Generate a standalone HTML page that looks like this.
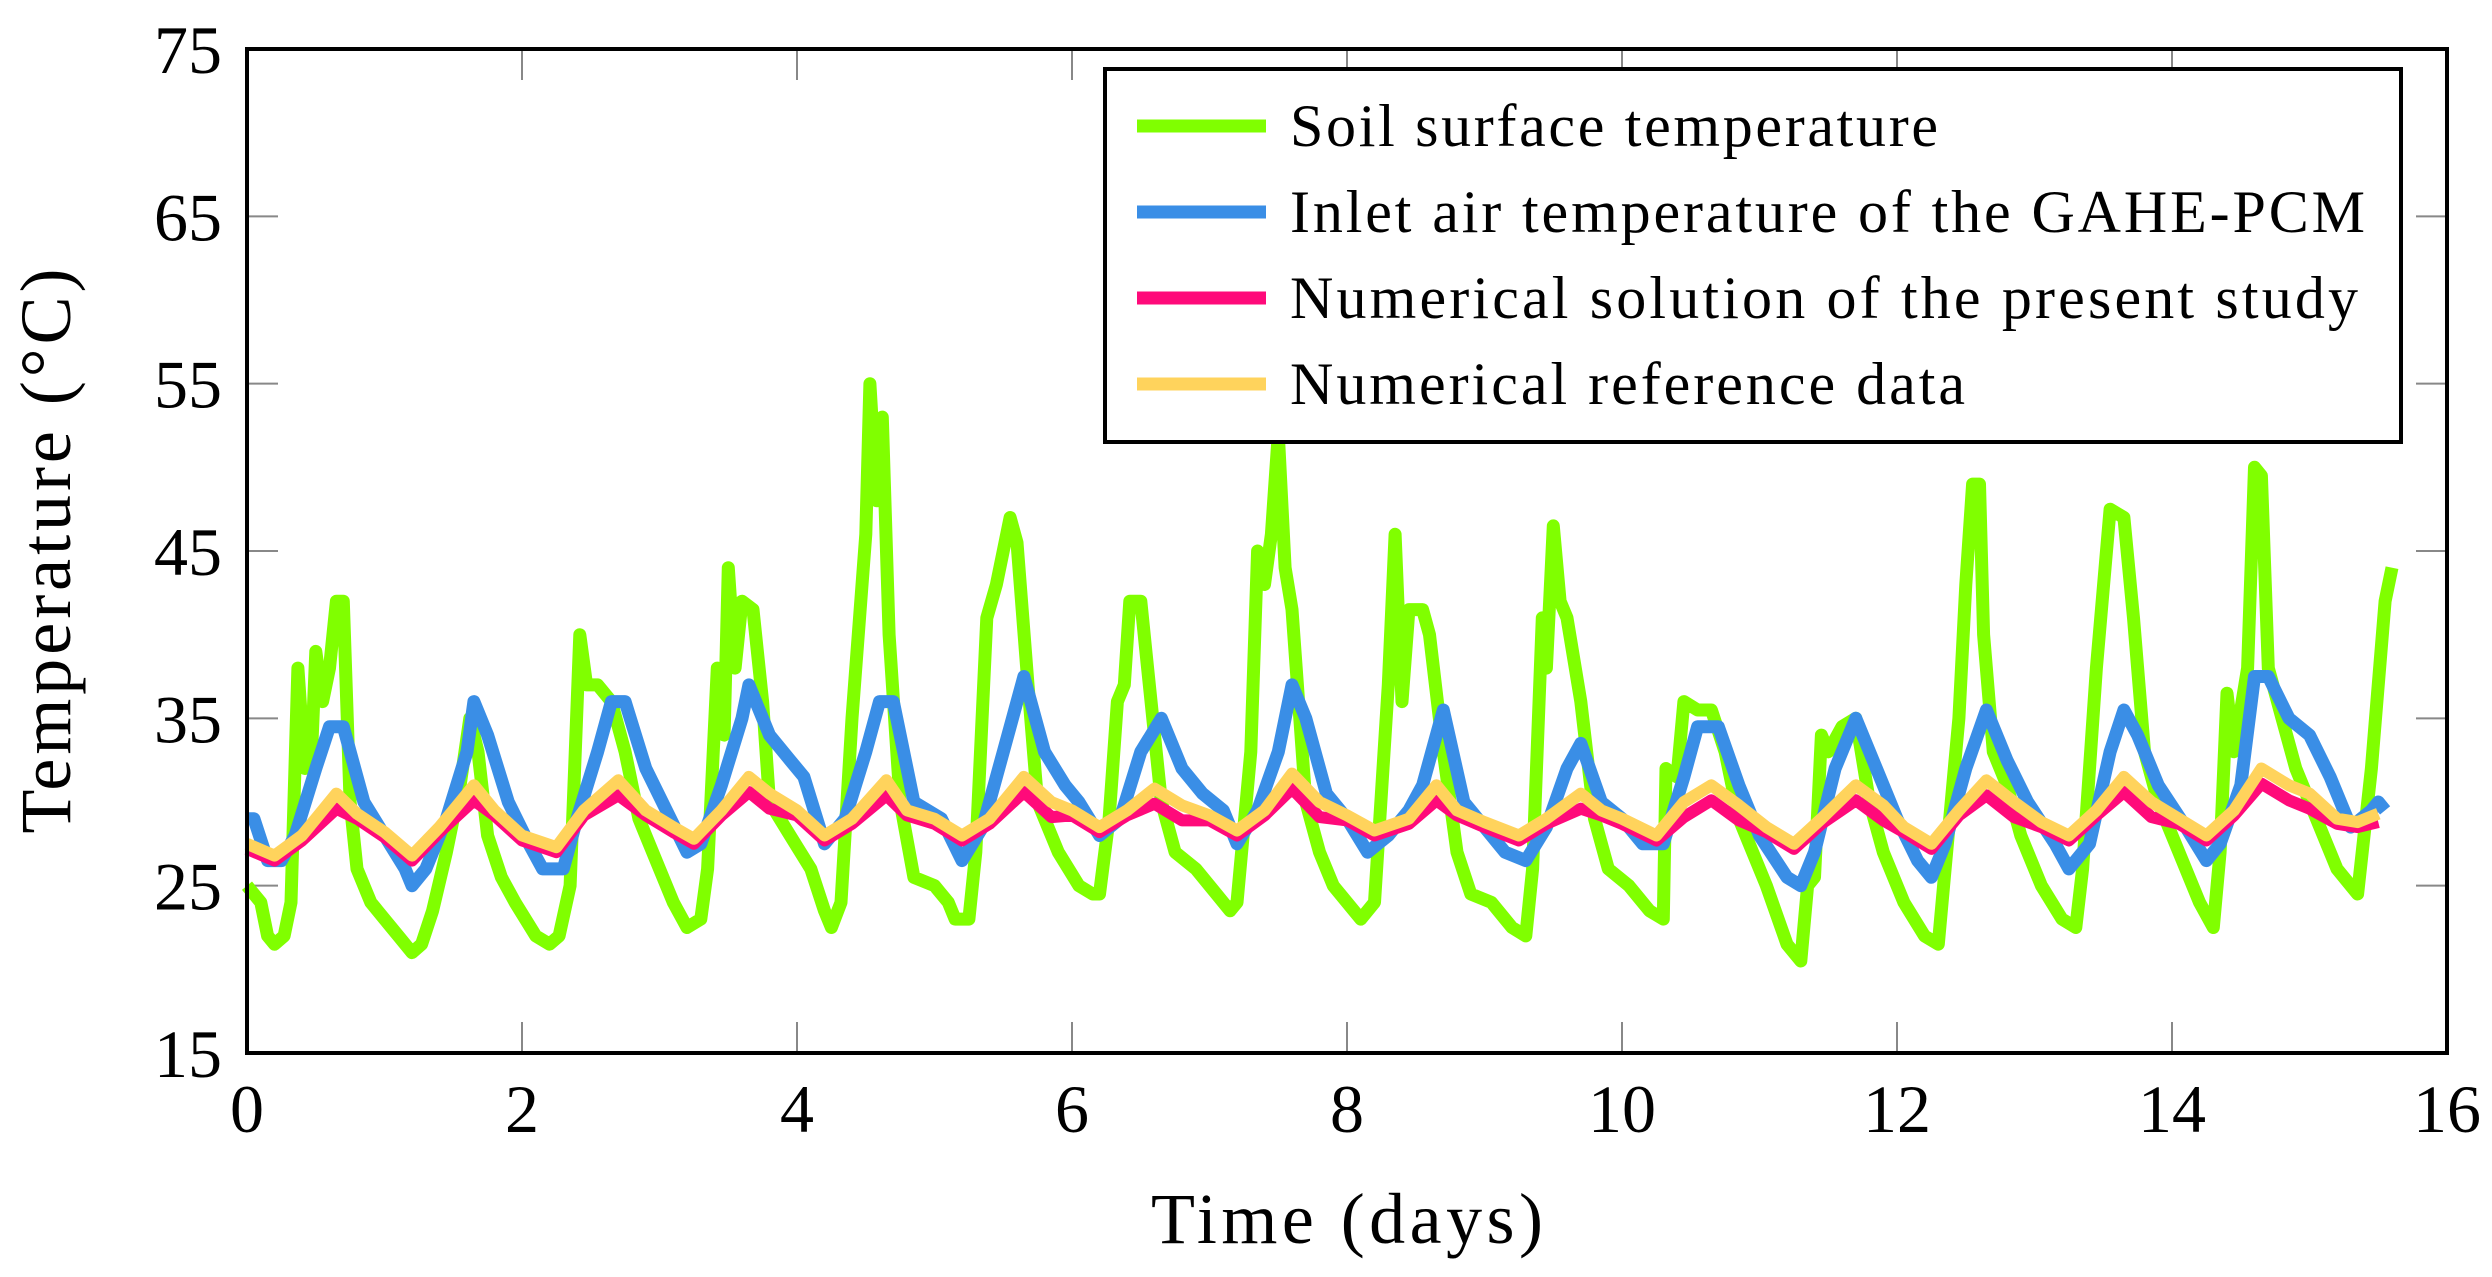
<!DOCTYPE html>
<html><head><meta charset="utf-8"><style>
html,body{margin:0;padding:0;background:#fff;}
svg{display:block;}
text{font-family:"Liberation Serif",serif;fill:#000;}
</style></head><body>
<svg id="s" width="2492" height="1277" viewBox="0 0 2492 1277" xmlns="http://www.w3.org/2000/svg">
<g id="ticks" stroke="#888" stroke-width="2"></g>
<g id="series" fill="none" stroke-linejoin="round" stroke-linecap="butt"></g>
<rect x="247" y="49" width="2200" height="1004" fill="none" stroke="#000" stroke-width="4"/>
<g id="labels" font-size="68"></g>
<text x="1347" y="1243" font-size="72" text-anchor="middle" textLength="392">Time (days)</text>
<text transform="translate(70,551) rotate(-90)" font-size="72" text-anchor="middle" textLength="565">Temperature (°C)</text>
<rect x="1105" y="69" width="1296" height="373" fill="#fff" stroke="#000" stroke-width="4"/>
<line x1="1137" y1="126" x2="1266" y2="126" stroke="#80ff00" stroke-width="13"/>
<line x1="1137" y1="212" x2="1266" y2="212" stroke="#3a8ee6" stroke-width="13"/>
<line x1="1137" y1="298" x2="1266" y2="298" stroke="#ff0a7a" stroke-width="13"/>
<line x1="1137" y1="384" x2="1266" y2="384" stroke="#ffd35c" stroke-width="13"/>
<g font-size="60">
<text x="1290" y="146" textLength="648">Soil surface temperature</text>
<text x="1290" y="232" textLength="1075">Inlet air temperature of the GAHE-PCM</text>
<text x="1290" y="318" textLength="1068">Numerical solution of the present study</text>
<text x="1290" y="404" textLength="675">Numerical reference data</text>
</g>
</svg>
<script>
const X=d=>247+d*137.5, Y=t=>1053-(t-15)*16.733;
const ns="http://www.w3.org/2000/svg";
function el(p,tag,a){const e=document.createElementNS(ns,tag);for(const k in a)e.setAttribute(k,a[k]);p.appendChild(e);return e;}
const tk=document.getElementById('ticks'),lb=document.getElementById('labels');
for(let d=0;d<=16;d+=2){const x=X(d);
 if(d>0&&d<16){el(tk,'line',{x1:x,y1:49,x2:x,y2:80});el(tk,'line',{x1:x,y1:1053,x2:x,y2:1022});}
 const t=el(lb,'text',{x:x,y:1132,'text-anchor':'middle'});t.textContent=d;}
for(let v=15;v<=75;v+=10){const y=Y(v);
 if(v>15&&v<75){el(tk,'line',{x1:247,y1:y,x2:278,y2:y});el(tk,'line',{x1:2447,y1:y,x2:2416,y2:y});}
 const t=el(lb,'text',{x:222,y:y+24,'text-anchor':'end'});t.textContent=v;}
function P(a){let s='';for(let i=0;i<a.length;i+=2)s+=(i?'L':'M')+X(a[i]).toFixed(1)+','+Y(a[i+1]).toFixed(1);return s;}
const G=[0,25,0.1,24,0.15,22,0.2,21.5,0.27,22,0.32,24,0.37,38,0.42,32,0.47,33,0.5,39,0.55,36,0.6,38,0.65,42,0.7,42,0.75,30,0.8,26,0.9,24,1.0,23,1.1,22,1.2,21,1.27,21.5,1.35,23.5,1.45,27,1.55,31,1.62,35,1.68,33,1.75,28,1.85,25.5,1.95,24,2.1,22,2.2,21.5,2.27,22,2.35,25,2.42,40,2.47,37,2.55,37,2.65,36,2.75,33,2.85,29,3.0,26,3.1,24,3.2,22.5,3.3,23,3.35,26,3.42,38,3.47,34,3.5,44,3.55,38,3.6,42,3.68,41.5,3.75,36,3.8,30,3.95,28,4.1,26,4.2,23.5,4.25,22.5,4.32,24,4.4,35,4.5,46,4.53,55,4.58,48,4.62,53,4.67,40,4.75,30,4.85,25.5,5.0,25,5.1,24,5.15,23,5.25,23,5.3,27,5.38,41,5.45,43,5.55,47,5.6,45.5,5.68,37,5.75,30,5.9,27,6.05,25,6.15,24.5,6.2,24.5,6.27,29,6.33,36,6.38,37,6.42,42,6.5,42,6.55,38,6.65,30,6.75,27,6.9,26,7.05,24.5,7.15,23.5,7.2,24,7.3,33,7.35,45,7.4,43,7.45,46,7.5,52,7.55,44,7.6,41.5,7.7,30,7.8,27,7.9,25,8.05,23.5,8.1,23,8.2,24,8.3,37,8.35,46,8.4,36,8.45,41.5,8.55,41.5,8.6,40,8.7,33,8.8,27,8.9,24.5,9.05,24,9.2,22.5,9.3,22,9.35,26,9.42,41,9.45,38,9.5,46.5,9.55,42,9.6,41,9.7,36,9.8,29,9.9,26,10.05,25,10.2,23.5,10.3,23,10.32,32,10.4,31.5,10.45,36,10.55,35.5,10.65,35.5,10.75,33,10.85,29,11.05,25,11.2,21.5,11.3,20.5,11.35,25,11.4,25.5,11.45,34,11.5,33,11.6,34.5,11.7,35,11.8,30,11.9,27,12.05,24,12.2,22,12.3,21.5,12.35,26,12.45,35,12.5,43,12.55,49,12.6,49,12.63,40,12.7,33,12.8,31,12.9,28,13.05,25,13.2,23,13.3,22.5,13.35,26,13.45,38,13.55,47.5,13.65,47,13.72,41,13.8,33,13.9,30,14.05,27,14.2,24,14.3,22.5,14.35,27,14.4,36.5,14.45,33,14.55,38,14.6,50,14.65,49.5,14.7,38,14.8,35,14.9,32,15.05,29,15.2,26,15.3,25,15.35,24.5,15.45,32,15.55,42,15.6,44];
const B=[0,29,0.05,29,0.15,26.5,0.25,26.5,0.35,28,0.5,32,0.6,34.5,0.7,34.5,0.85,30,1.0,28,1.15,26,1.2,25,1.3,26,1.45,29,1.6,33,1.65,36,1.75,34,1.9,30,2.05,27.5,2.15,26,2.3,26,2.4,29,2.55,33,2.65,36,2.75,36,2.9,32,3.05,29.5,3.2,27,3.3,27.5,3.45,31,3.6,35,3.65,37,3.8,34,3.95,32.5,4.05,31.5,4.2,27.5,4.35,29,4.5,33,4.6,36,4.7,36,4.85,30,5.05,29,5.2,26.5,5.35,28.5,5.5,33,5.65,37.5,5.8,33,5.95,31,6.05,30,6.2,28,6.35,29,6.5,33,6.65,35,6.8,32,6.95,30.5,7.1,29.5,7.2,27.5,7.35,29.5,7.5,33,7.6,37,7.7,35,7.85,30.5,8.0,29,8.15,27,8.3,28,8.45,29.5,8.55,31,8.7,35.5,8.85,30,9.0,28.5,9.15,27,9.3,26.5,9.45,28.5,9.6,32,9.7,33.5,9.85,30,10.0,29,10.15,27.5,10.3,27.5,10.45,31.5,10.55,34.5,10.7,34.5,10.85,31,11.0,28,11.2,25.5,11.3,25,11.4,27,11.55,32,11.7,35,11.85,32,12.0,29,12.15,26.5,12.25,25.5,12.35,27.5,12.5,32,12.65,35.5,12.8,32.5,12.95,30,13.15,27.5,13.25,26,13.4,27.5,13.55,33,13.65,35.5,13.75,34,13.9,31,14.1,28.5,14.25,26.5,14.35,27.5,14.5,31,14.6,37.5,14.7,37.5,14.85,35,15.0,34,15.15,31.5,15.3,28.5,15.45,29.5,15.5,30,15.55,29.5];
const Yl=[0,27.5,0.2,26.8,0.4,28,0.65,30.5,0.8,29.3,1.0,28.2,1.2,26.8,1.4,28.5,1.65,31,1.8,29.5,2.0,28,2.25,27.3,2.45,29.5,2.7,31.3,2.9,29.5,3.1,28.5,3.25,27.8,3.45,29.5,3.65,31.5,3.8,30.5,4.0,29.5,4.2,28,4.4,29,4.65,31.3,4.8,29.5,5.0,29,5.2,28,5.4,29,5.65,31.5,5.85,30,6.0,29.5,6.2,28.5,6.4,29.5,6.6,30.8,6.8,29.8,7.0,29.2,7.2,28.3,7.4,29.5,7.6,31.7,7.8,30,8.0,29.2,8.2,28.3,8.45,29,8.65,31,8.8,29.5,9.0,28.8,9.25,28,9.45,29,9.7,30.5,9.85,29.5,10.0,29,10.25,28,10.45,30,10.65,31,10.85,29.8,11.05,28.5,11.25,27.5,11.45,29,11.7,31,11.9,29.8,12.05,28.5,12.25,27.5,12.45,29.5,12.65,31.3,12.85,30,13.05,28.8,13.25,28,13.45,29.5,13.65,31.5,13.85,30,14.05,29,14.25,28,14.45,29.5,14.65,32,14.85,31,15.0,30.5,15.2,29,15.35,28.8,15.5,29.3];
const R=Yl.map((v,i)=>i%2?(v>29.5?v-0.9:v-0.3):v);
R[R.length-1]=28.8;
const sg=document.getElementById('series');
el(sg,'path',{d:P(G),stroke:'#80ff00','stroke-width':13});
el(sg,'path',{d:P(B),stroke:'#3a8ee6','stroke-width':13});
el(sg,'path',{d:P(R),stroke:'#ff0a7a','stroke-width':12});
el(sg,'path',{d:P(Yl),stroke:'#ffd35c','stroke-width':12});
</script>
</body></html>
